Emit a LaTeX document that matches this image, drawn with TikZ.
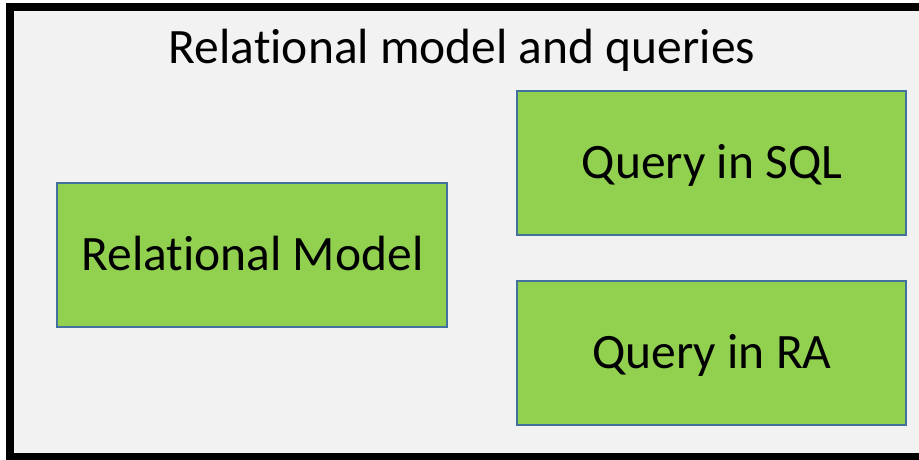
\documentclass[tikz,border=0pt]{standalone}
\usepackage{fontspec}
\setmainfont[Ligatures={NoCommon}]{Carlito}
\definecolor{bggray}{HTML}{F2F2F2}
\definecolor{boxgreen}{HTML}{92D050}
\definecolor{boxblue}{HTML}{41719C}
\tikzset{
  greenbox/.style={draw=boxblue, fill=boxgreen, line width=2.4pt},
  bigtext/.style={font=\fontsize{49.5}{59}\selectfont, text=black, inner sep=0pt, anchor=base}
}
\begin{document}
\begin{tikzpicture}[x=1pt,y=-1pt]
\useasboundingbox (0,0) rectangle (919,459);
\clip (0,0) rectangle (919,459);
\fill[white] (0,0) rectangle (919,459);
\draw[fill=bggray, line width=8pt] (10,7) rectangle (924,457);
\node[bigtext] (title) at (462,63.5) {Relational model and queries};
\draw[greenbox] (57,183) rectangle (447,327);
\node[bigtext] (rm) at (252.5,270) {Relational Model};
\draw[greenbox] (517,91) rectangle (906,235);
\node[bigtext] (sql) at (712,178) {Query in SQL};
\draw[greenbox] (517,281) rectangle (906,425);
\node[bigtext] (ra) at (712,368) {Query in RA};
\end{tikzpicture}
\end{document}
